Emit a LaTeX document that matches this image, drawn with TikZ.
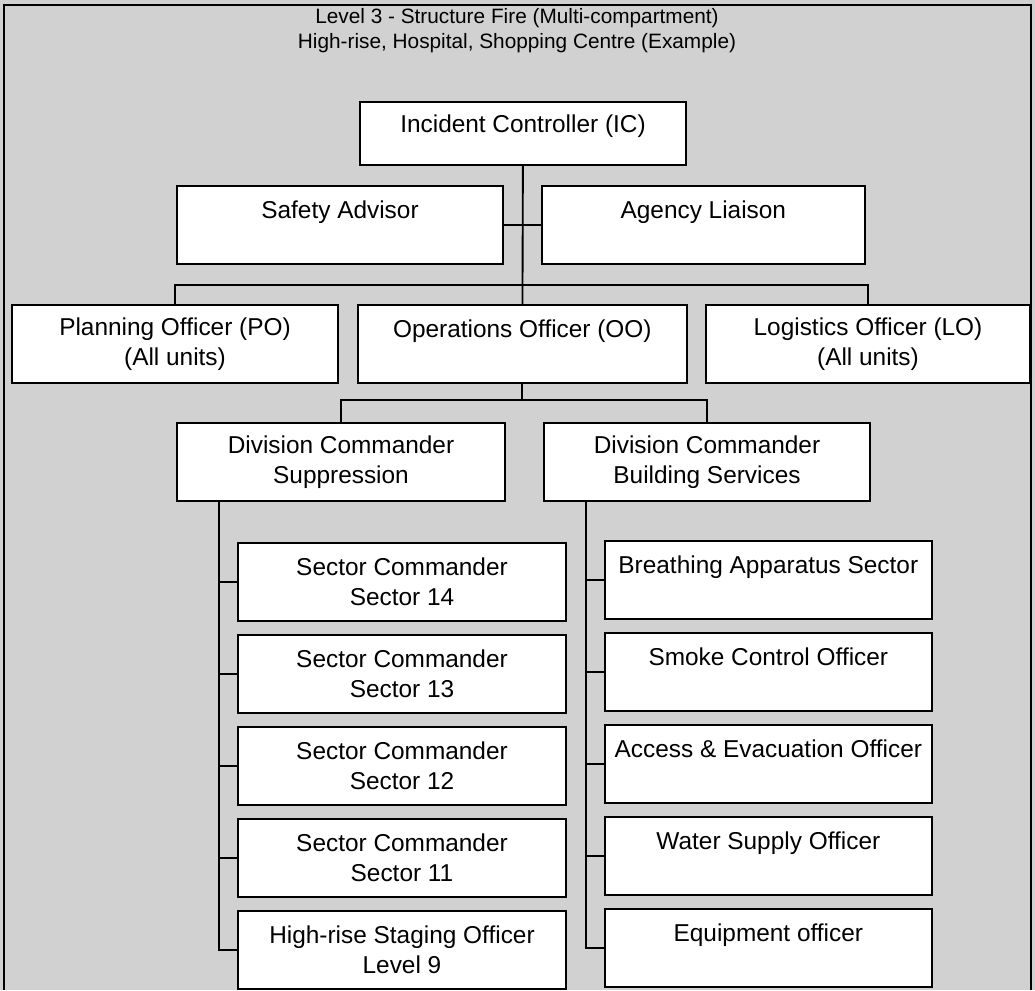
\documentclass[tikz,border=0pt]{standalone}
\usepackage{fontspec}
\setmainfont{Liberation Sans}
\usetikzlibrary{calc}

\tikzset{
  post/.style={draw, fill=white, line width=1.4pt, inner sep=0pt, outer sep=0pt,
    anchor=north west, align=center, minimum height=58.5pt,
    font=\fontsize{18.3}{22.5}\selectfont},
  link/.style={line width=1.4pt},
}

\begin{document}
\begin{tikzpicture}[x=0.75pt, y=-0.75pt]
    \useasboundingbox (0,0) rectangle (1035,990);
    \fill[black!18] (0,0) rectangle (1035,990);
    \draw[link] (4,990) -- (4,5) -- (1031,5) -- (1031,990);

    % title
    \node[align=center, font=\fontsize{15.6}{18.75}\selectfont] (title) at (517,31)
      {Level 3 - Structure Fire (Multi-compartment)\\High-rise, Hospital, Shopping Centre (Example)};

    % command level
    \node[post, minimum width=244.5pt, minimum height=47pt, text depth=14pt] (ic) at (360,102) {Incident Controller (IC)};
    \node[post, minimum width=244.5pt] (safety) at (177,186) {Safety Advisor\\\mbox{}};
    \node[post, minimum width=242pt] (agency) at (542,186) {Agency Liaison\\\mbox{}};

    \node[post, minimum width=244.5pt] (po) at (12,305) {Planning Officer (PO)\\(All units)};
    \node[post, minimum width=246.5pt] (oo) at (358,305) {Operations Officer (OO)\\\mbox{}};
    \node[post, minimum width=243pt] (lo) at (706,305) {Logistics Officer (LO)\\(All units)};

    \draw[link] (ic) -- (oo);
    \draw[link] (safety.east) -- (agency.west);
    \draw[link] (po.north) -- ++(0,-20) -| (lo.north);

    % divisions
    \node[post, minimum width=246pt] (dcs) at (177,423) {Division Commander\\Suppression};
    \node[post, minimum width=244.5pt] (dcb) at (544,423) {Division Commander\\Building Services};

    \draw[link] (oo.south) -- ++(0,17) coordinate (split);
    \draw[link] (dcs.north) |- (split) -| (dcb.north);

    % suppression sectors
    \node[post, minimum width=246pt] (s14) at (238,543) {Sector Commander\\Sector 14};
    \node[post, minimum width=246pt] (s13) at (238,635) {Sector Commander\\Sector 13};
    \node[post, minimum width=246pt] (s12) at (238,727) {Sector Commander\\Sector 12};
    \node[post, minimum width=246pt] (s11) at (238,819) {Sector Commander\\Sector 11};
    \node[post, minimum width=246pt] (stage) at (238,911) {High-rise Staging Officer\\Level 9};

    % building services
    \node[post, minimum width=245pt] (ba) at (605,541) {Breathing Apparatus Sector\\\mbox{}};
    \node[post, minimum width=245pt] (smoke) at (605,633) {Smoke Control Officer\\\mbox{}};
    \node[post, minimum width=245pt] (access) at (605,725) {Access \& Evacuation Officer\\\mbox{}};
    \node[post, minimum width=245pt] (water) at (605,817) {Water Supply Officer\\\mbox{}};
    \node[post, minimum width=245pt] (equip) at (605,909) {Equipment officer\\\mbox{}};

    \foreach \n in {s14,s13,s12,s11,stage}
      \draw[link] ($(dcs.south west)+(42,0)$) |- (\n.west);
    \foreach \n in {ba,smoke,access,water,equip}
      \draw[link] ($(dcb.south west)+(42,0)$) |- (\n.west);
  \end{tikzpicture}
\end{document}
